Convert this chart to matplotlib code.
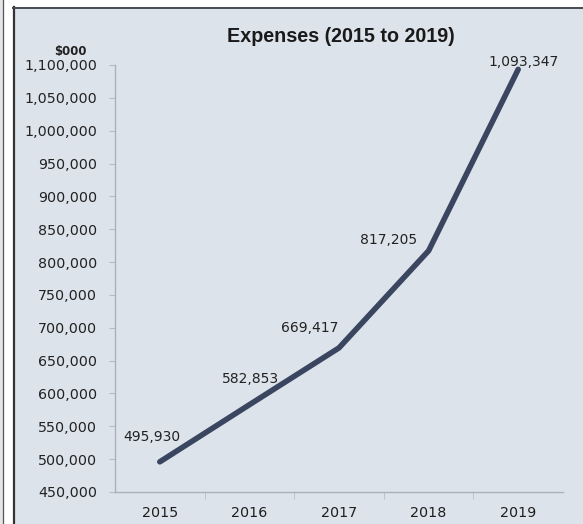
import matplotlib
matplotlib.use("Agg")
import matplotlib.pyplot as plt
from matplotlib.patches import Rectangle
from matplotlib.lines import Line2D
from matplotlib.ticker import FuncFormatter, FixedLocator

years = ["2015", "2016", "2017", "2018", "2019"]
expenses = [495930, 582853, 669417, 817205, 1093347]
label_offsets = [(-8, 25), (1, 26), (-29, 20), (-40, 11), (5, 7)]  # pixels from each point
y_ticks = list(range(450000, 1100001, 50000))

W, H = 583, 524
fig = plt.figure(figsize=(W / 100, H / 100), dpi=100)
fig.patch.set_facecolor("white")

panel_bg = "#dde3ea"
# panel background and frame
fig.add_artist(Rectangle((14 / W, 0), 1 - 14 / W, 1 - 8 / H, transform=fig.transFigure,
                         facecolor=panel_bg, edgecolor="none", zorder=0))
fig.add_artist(Rectangle((0, 0), 3 / W, 1, transform=fig.transFigure,
                         facecolor="#e4e6e8", edgecolor="none", zorder=0))
fig.add_artist(Line2D([3 / W, 3 / W], [0, 1], transform=fig.transFigure, color="#555555", lw=0.9))
fig.add_artist(Line2D([13.5 / W, 13.5 / W], [0, 1 - 7 / H], transform=fig.transFigure, color="#333333", lw=1.6))
fig.add_artist(Line2D([13 / W, 1], [1 - 7.5 / H, 1 - 7.5 / H], transform=fig.transFigure, color="#444a52", lw=1.4))

ax = fig.add_axes([115 / W, 32 / H, (563 - 115) / W, (492 - 65) / H])
ax.set_facecolor("none")

x = list(range(len(years)))
ax.plot(x, expenses, color="#3a4560", lw=4.0, solid_capstyle="round", solid_joinstyle="round", zorder=3)

for xi, v, (dx, dy) in zip(x, expenses, label_offsets):
    ax.annotate(f"{v:,}", (xi, v), xytext=(dx * 0.72, dy * 0.72), textcoords="offset points",
                ha="center", va="center", fontsize=10, color="#222222", family="DejaVu Sans")

ax.set_xlim(-0.5, len(years) - 0.5)
ax.set_ylim(450000, 1100000)
ax.set_yticks(y_ticks)
ax.yaxis.set_major_formatter(FuncFormatter(lambda v, p: f"{int(v):,}"))
ax.set_xticks(x)
ax.set_xticklabels(years)
ax.xaxis.set_minor_locator(FixedLocator([i + 0.5 for i in range(len(years) - 1)]))

for s in ["top", "right"]:
    ax.spines[s].set_visible(False)
for s in ["left", "bottom"]:
    ax.spines[s].set_color("#a9b1ba")
    ax.spines[s].set_linewidth(1.0)

ax.tick_params(axis="y", which="major", length=4, color="#b5bcc4", labelsize=10.3,
               labelcolor="#222222", pad=9)
ax.tick_params(axis="x", which="major", length=0, labelsize=10.3, labelcolor="#1e1e1e", pad=10)
ax.tick_params(axis="x", which="minor", length=5, color="#b5bcc4")

fig.text(341 / W, 1 - 37 / H, "Expenses (2015 to 2019)", ha="center", va="center",
         fontsize=14.2, fontweight="bold", family="Liberation Sans", color="#1a1a1a")
fig.text(70 / W, 1 - 51 / H, "$000", ha="center", va="center", fontsize=8.5,
         fontweight="bold", family="DejaVu Sans", color="#222222")

fig.savefig("out.png", dpi=100, facecolor=fig.get_facecolor())
